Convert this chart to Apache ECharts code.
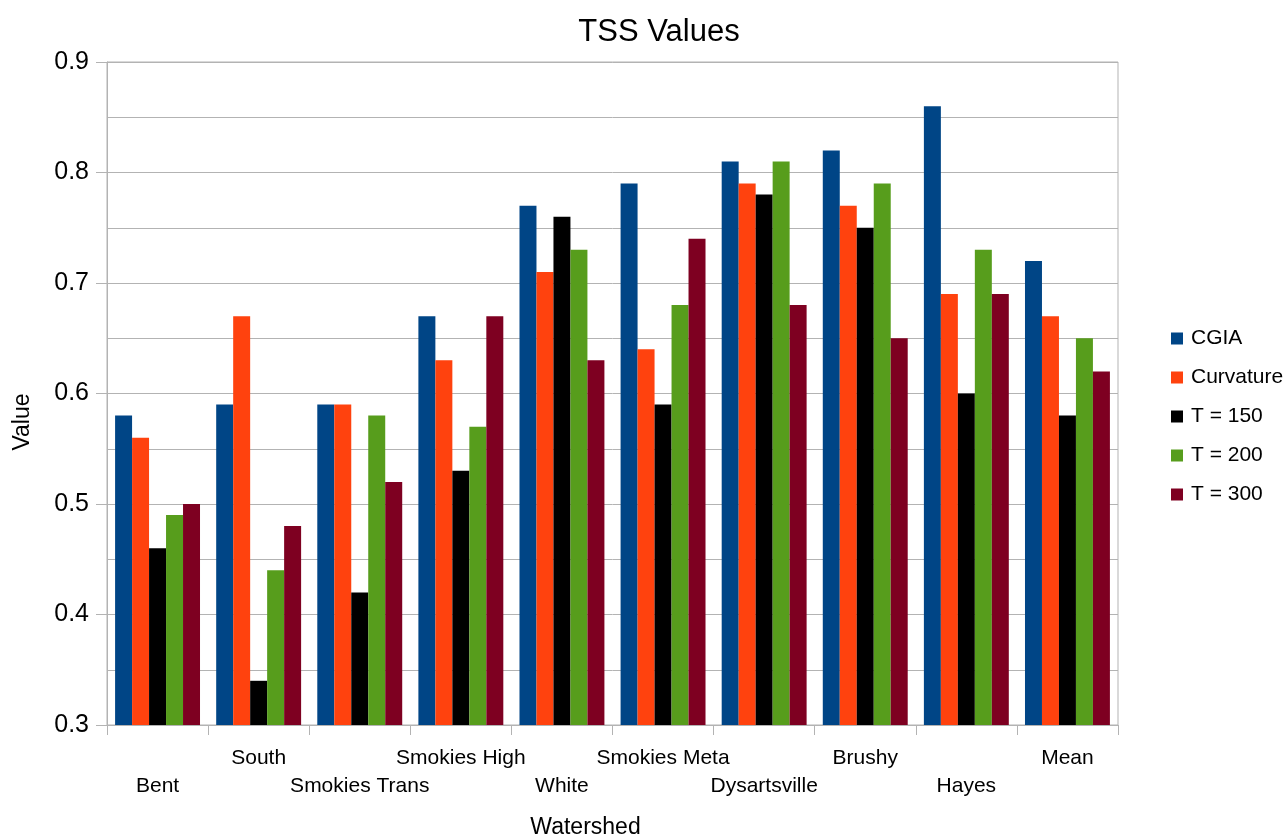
<!DOCTYPE html>
<html>
<head>
<meta charset="utf-8">
<title>TSS Values</title>
<script src="https://cdn.jsdelivr.net/npm/echarts@6/dist/echarts.min.js"></script>
<style>
  html, body { margin: 0; padding: 0; background: #ffffff; }
  #chart { width: 1284px; height: 840px; }
</style>
</head>
<body>
<div id="chart"></div>
<script>
// Watersheds along the category axis
const watersheds = ['Bent', 'South', 'Smokies Trans', 'Smokies High', 'White',
  'Smokies Meta', 'Dysartsville', 'Brushy', 'Hayes', 'Mean'];

// TSS per method / threshold
const cgia      = [0.58, 0.59, 0.59, 0.67, 0.77, 0.79, 0.81, 0.82, 0.86, 0.72];
const curvature = [0.56, 0.67, 0.59, 0.63, 0.71, 0.64, 0.79, 0.77, 0.69, 0.67];
const t150      = [0.46, 0.34, 0.42, 0.53, 0.76, 0.59, 0.78, 0.75, 0.60, 0.58];
const t200      = [0.49, 0.44, 0.58, 0.57, 0.73, 0.68, 0.81, 0.79, 0.73, 0.65];
const t300      = [0.50, 0.48, 0.52, 0.67, 0.63, 0.74, 0.68, 0.65, 0.69, 0.62];

const seriesNames = ['CGIA', 'Curvature', 'T = 150', 'T = 200', 'T = 300'];
const seriesData = [cgia, curvature, t150, t200, t300];
const palette = ['#004586', '#ff420e', '#000000', '#579d1c', '#7e0021'];

const FONT = 'Liberation Sans, Arial, sans-serif';
const GRID_GRAY = '#b3b3b3';

const chart = echarts.init(document.getElementById('chart'), null, { renderer: 'canvas' });

chart.setOption({
  animation: false,
  backgroundColor: '#ffffff',
  color: palette,
  textStyle: { fontFamily: FONT, color: '#000000' },
  title: {
    text: 'TSS Values',
    left: 654,
    textAlign: 'center',
    top: 12,
    textStyle: { fontFamily: FONT, fontSize: 31, fontWeight: 'normal', color: '#000000' }
  },
  legend: {
    orient: 'vertical',
    left: 1166,
    top: 323,
    itemWidth: 12,
    itemHeight: 12,
    itemGap: 18,
    icon: 'rect',
    textStyle: { fontFamily: FONT, fontSize: 21, lineHeight: 21, color: '#000000', padding: [0, 0, 0, 3] },
    data: seriesNames
  },
  grid: {
    left: 107,
    right: 166,
    top: 62,
    bottom: 115,
    show: true,
    borderColor: GRID_GRAY,
    borderWidth: 1,
    containLabel: false,
    outerBoundsMode: 'none'
  },
  xAxis: {
    type: 'category',
    data: watersheds,
    name: 'Watershed',
    nameLocation: 'middle',
    nameGap: 91,
    nameTextStyle: { fontFamily: FONT, fontSize: 23, color: '#000000', padding: [0, 54, 0, 0] },
    axisLine: { lineStyle: { color: GRID_GRAY, width: 1 } },
    axisTick: { show: true, interval: 0, length: 10, lineStyle: { color: GRID_GRAY } },
    axisLabel: {
      interval: 0,
      margin: 19,
      fontFamily: FONT,
      fontSize: 21,
      lineHeight: 28,
      color: '#000000',
      // alternate labels between two rows so long names do not collide
      formatter: function (value, index) {
        return index % 2 === 0 ? '\n' + value : value;
      }
    },
    splitLine: { show: false }
  },
  yAxis: {
    type: 'value',
    min: 0.3,
    max: 0.9,
    interval: 0.1,
    name: 'Value',
    nameLocation: 'middle',
    nameGap: 73,
    nameTextStyle: { fontFamily: FONT, fontSize: 23, color: '#000000', padding: [0, 57, 0, 0] },
    axisLine: { show: true, lineStyle: { color: GRID_GRAY, width: 1 } },
    axisTick: { show: true, length: 11, lineStyle: { color: GRID_GRAY } },
    axisLabel: {
      margin: 18,
      fontFamily: FONT,
      fontSize: 25,
      color: '#000000',
      formatter: function (v) { return v.toFixed(1); }
    },
    splitLine: { show: true, lineStyle: { color: GRID_GRAY, width: 1 } },
    minorTick: { show: false, splitNumber: 2 },
    minorSplitLine: { show: true, lineStyle: { color: GRID_GRAY, width: 1 } }
  },
  series: seriesNames.map(function (name, i) {
    return {
      name: name,
      type: 'bar',
      data: seriesData[i],
      barGap: '0%',
      barCategoryGap: '16%',
      itemStyle: { color: palette[i] }
    };
  })
});
</script>
</body>
</html>
